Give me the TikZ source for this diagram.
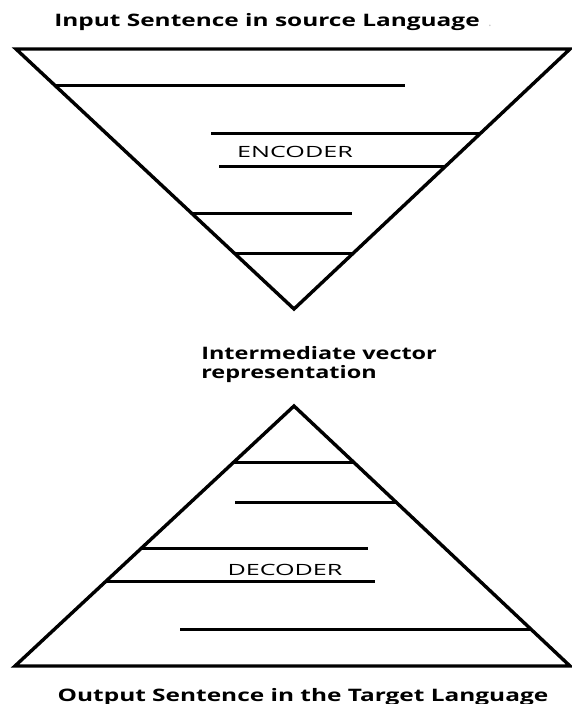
\documentclass[tikz,border=0pt]{standalone}
\usepackage{fontspec}
\setmainfont{Open Sans}
\usetikzlibrary{positioning}

\begin{document}
\begin{tikzpicture}[x=1pt, y=-1pt, line width=3.4pt, line join=miter,
  heading/.style={font=\bfseries\fontsize{17.2}{19}\selectfont, inner sep=0pt, xscale=1.42},
  stage/.style={font=\fontsize{15.5}{18}\selectfont, inner sep=0pt, xscale=1.62},
  bar/.style={line width=3pt}]
  \useasboundingbox (0,0) rectangle (571,704);

  % encoder (upside down)
  \begin{scope}
    \coordinate (el) at (16,49);
    \coordinate (er) at (570,49);
    \coordinate (ea) at (294,309);
    \draw (el) -- (er) -- (ea) -- cycle;
    \draw[bar] (55,85) -- (405,85);
    \draw[bar] (211,133) -- (481,133);
    \draw[bar] (219,166) -- (445,166);
    \draw[bar] (191,213) -- (352,213);
    \draw[bar] (234,253) -- (354,253);
    \node[stage, anchor=base] (enc) at (295,157) {ENCODER};
  \end{scope}

  % decoder
  \begin{scope}
    \coordinate (dl) at (15,666);
    \coordinate (dr) at (570,666);
    \coordinate (da) at (294,406);
    \draw (dl) -- (dr) -- (da) -- cycle;
    \draw[bar] (234,462) -- (353,462);
    \draw[bar] (235,502) -- (396,502);
    \draw[bar] (142,548) -- (368,548);
    \draw[bar] (106,581) -- (375,581);
    \draw[bar] (180,629) -- (531,629);
    \node[stage, anchor=base] (dec) at (285,575) {DECODER};
  \end{scope}

  \node[heading, anchor=base] (src) at (267,27) {Input Sentence in source Language};
  \node[font=\fontsize{12}{14}\selectfont, text=gray!50, anchor=base] (dot) at (490,27) {.};
  \node[heading, anchor=base west, xscale=0.96] (mid) at (199,359) {Intermediate vector};
  \node[heading, xscale=0.96, below=3pt of mid.south west, anchor=north west] (mid2) {representation};
  \node[heading, anchor=base] (tgt) at (303,701) {Output Sentence in the Target Language};
\end{tikzpicture}
\end{document}
